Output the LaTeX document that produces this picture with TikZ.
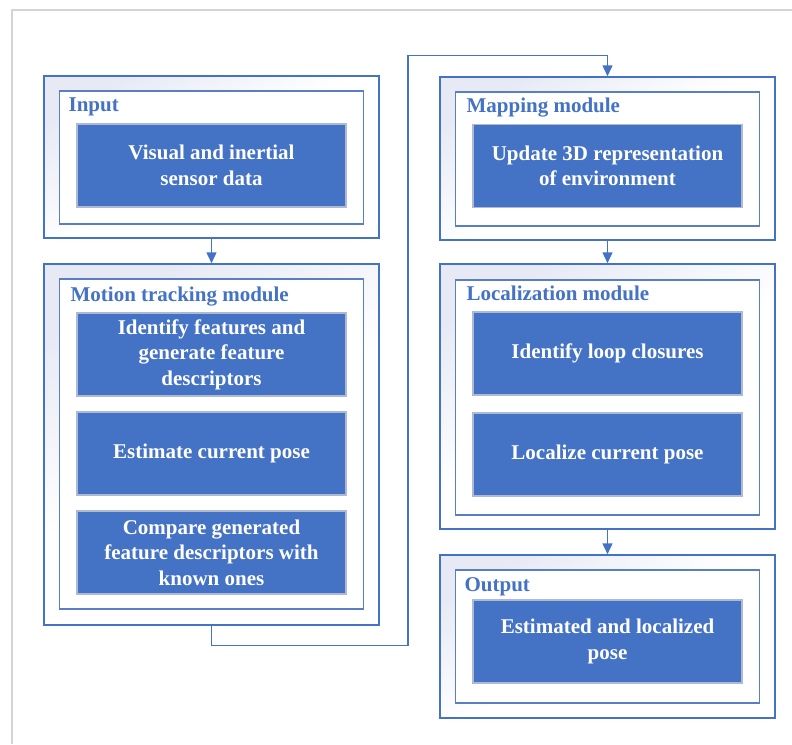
\documentclass[tikz,border=0pt]{standalone}
\usepackage{fontspec}
\setmainfont{Liberation Serif}
\usepackage{tikz}
\usetikzlibrary{arrows.meta,positioning,calc}
\definecolor{boxblue}{HTML}{4472C4}
\definecolor{panelblue}{HTML}{5A7EC4}
\definecolor{edgegray}{HTML}{AEB9D3}
\definecolor{tint}{HTML}{E7EAF5}
\definecolor{pagegray}{HTML}{D4D4D4}
\newcommand{\taskfont}{\fontsize{21}{25.5}\selectfont\bfseries}
\tikzset{
  every picture/.style={line width=1.2pt},
  moduleframe/.style={draw=boxblue, line width=1.5pt, top color=tint, bottom color=white, middle color=white, shading angle=30, minimum width=335pt, inner sep=0pt},
  modulepanel/.style={draw=panelblue, fill=white, line width=1.4pt, minimum width=304pt, inner sep=0pt},
  taskbox/.style={draw=edgegray, fill=boxblue, line width=1.3pt, text=white, font=\taskfont, align=center, minimum width=269pt, minimum height=83pt, inner sep=0pt},
  moduletitle/.style={anchor=base west, inner sep=0pt, text=boxblue, font=\taskfont},
  flow/.style={draw=boxblue, line width=1.5pt, -{Triangle[length=11pt,width=10pt]}}
}

\begin{document}
\begin{tikzpicture}[x=1pt,y=-1pt]
    \useasboundingbox (0,0) rectangle (792,744);
    % Page frame
    \draw[pagegray] (12,744) -- (12,10) -- (792,10);
    % Input
    \node[moduleframe, minimum height=162pt] (inframe) at (211.5,157) {};
    \node[modulepanel, minimum height=133pt] (inpanel) at (211.5,157.5) {};
    \node[moduletitle] (intitle) at (68,111) {Input};
    \node[taskbox] (sensors) at (211.5,165.5) {Visual and inertial\\sensor data};
    % Motion tracking module
    \node[moduleframe, minimum height=361pt] (motframe) at (211.5,444.5) {};
    \node[modulepanel, minimum height=330pt] (motpanel) at (211.5,444) {};
    \node[moduletitle] (mottitle) at (70,301.5) {Motion tracking module};
    \node[taskbox] (features) at (211.5,354.5) {Identify features and\\generate feature\\descriptors};
    \node[taskbox] (estimate) at (211.5,453.5) {Estimate current pose};
    \node[taskbox] (compare) at (211.5,552.5) {Compare generated\\feature descriptors with\\known ones};
    % Mapping module
    \node[moduleframe, minimum height=163pt] (mapframe) at (607.5,158.5) {};
    \node[modulepanel, minimum height=134pt] (mappanel) at (607.5,159) {};
    \node[moduletitle] (maptitle) at (466,112.5) {Mapping module};
    \node[taskbox] (update) at (607.5,166) {Update 3D representation\\of environment};
    % Localization module
    \node[moduleframe, minimum height=265pt] (locframe) at (607.5,396.5) {};
    \node[modulepanel, minimum height=235pt] (locpanel) at (607.5,397.5) {};
    \node[moduletitle] (loctitle) at (466,300) {Localization module};
    \node[taskbox] (loops) at (607.5,353.5) {Identify loop closures};
    \node[taskbox] (localize) at (607.5,454.5) {Localize current pose};
    % Output
    \node[moduleframe, minimum height=163pt] (outframe) at (607.5,636.5) {};
    \node[modulepanel, minimum height=133pt] (outpanel) at (607.5,636.5) {};
    \node[moduletitle] (outtitle) at (464,591.5) {Output};
    \node[taskbox] (result) at (607.5,641.5) {Estimated and localized\\pose};
    % Connectors
    \coordinate (turnlow) at (408,645.5);
    \coordinate (turnhigh) at (408,55.5);
    \draw[flow] (inframe.south) -- (motframe.north);
    \draw[flow] (motframe.south) |- (turnlow) -- (turnhigh) -| (mapframe.north);
    \draw[flow] (mapframe.south) -- (locframe.north);
    \draw[flow] (locframe.south) -- (outframe.north);
\end{tikzpicture}
\end{document}
